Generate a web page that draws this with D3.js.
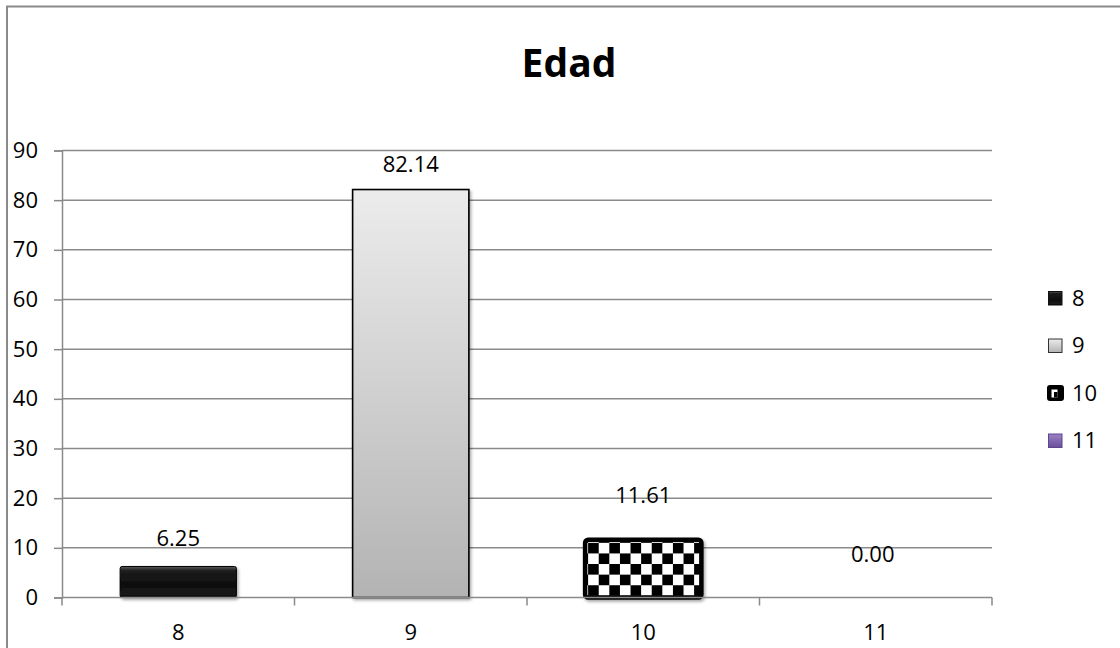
<!DOCTYPE html>
<html>
<head>
<meta charset="utf-8">
<script src="https://cdn.jsdelivr.net/npm/d3@7"></script>
<style>
  body { margin: 0; background: #fff; }
  svg text { font-family: "Open Sans", "Noto Sans", sans-serif; fill: #000; }
</style>
</head>
<body>
<svg id="chart" width="1120" height="648"></svg>
<script>
// data
const categories = ["8", "9", "10", "11"];
const values = [6.25, 82.14, 11.61, 0.00];
const yTicks = [0, 10, 20, 30, 40, 50, 60, 70, 80, 90];
const title = "Edad";

const svg = d3.select("#chart");
const plot = {left: 62, right: 992, top: 150.5, bottom: 597.5};
const grey = "#8a8a8a";

var x = d3.scaleBand()
  .domain(categories)
  .range([plot.left, plot.right])
  .paddingInner(0)
  .paddingOuter(0);

var y = d3.scaleLinear()
  .domain([0, 90])
  .range([plot.bottom, plot.top]);

// defs: gradients, pattern, shadow
const defs = svg.append("defs");

var g8 = defs.append("linearGradient").attr("id", "fill8")
  .attr("x1", 0).attr("y1", 0).attr("x2", 0).attr("y2", 1);
g8.append("stop").attr("offset", "0%").attr("stop-color", "#5c5c5c");
g8.append("stop").attr("offset", "14%").attr("stop-color", "#1c1c1c");
g8.append("stop").attr("offset", "60%").attr("stop-color", "#0e0e0e");
g8.append("stop").attr("offset", "90%").attr("stop-color", "#1a1a1a");
g8.append("stop").attr("offset", "100%").attr("stop-color", "#000");

var g9 = defs.append("linearGradient").attr("id", "fill9")
  .attr("x1", 0).attr("y1", 0).attr("x2", 0).attr("y2", 1);
g9.append("stop").attr("offset", "0%").attr("stop-color", "#ececec");
g9.append("stop").attr("offset", "100%").attr("stop-color", "#b3b3b3");

var g11 = defs.append("linearGradient").attr("id", "fill11")
  .attr("x1", 0).attr("y1", 0).attr("x2", 0).attr("y2", 1);
g11.append("stop").attr("offset", "0%").attr("stop-color", "#9a82c4");
g11.append("stop").attr("offset", "100%").attr("stop-color", "#6a4f9a");

var shadow = defs.append("filter").attr("id", "shadow")
  .attr("x", "-10%").attr("y", "-10%").attr("width", "130%").attr("height", "130%");
shadow.append("feDropShadow")
  .attr("dx", 1.5).attr("dy", 2).attr("stdDeviation", 1.6)
  .attr("flood-color", "#000").attr("flood-opacity", 0.35);

const cell = 10.6;
var bw = x.bandwidth() * 0.5;
var bx10 = x("10") + x.bandwidth() * 0.25;
var checker = defs.append("pattern").attr("id", "checker")
  .attr("patternUnits", "userSpaceOnUse")
  .attr("x", bx10 + 3).attr("y", y(values[2]) + 3)
  .attr("width", cell * 2).attr("height", cell * 2);
checker.append("rect").attr("width", cell * 2).attr("height", cell * 2).attr("fill", "#fff");
checker.append("rect").attr("width", cell).attr("height", cell).attr("fill", "#000");
checker.append("rect").attr("x", cell).attr("y", cell)
  .attr("width", cell).attr("height", cell).attr("fill", "#000");

const fills = ["url(#fill8)", "url(#fill9)", "url(#checker)", "url(#fill11)"];

// outer border
svg.append("rect")
  .attr("x", 7).attr("y", 6.5)
  .attr("width", 1300).attr("height", 800)
  .attr("fill", "none")
  .attr("stroke", grey)
  .attr("stroke-width", 2);

// title
svg.append("text")
  .attr("x", 569).attr("y", 77)
  .attr("text-anchor", "middle")
  .attr("font-size", 39)
  .attr("font-weight", "bold")
  .text(title);

// gridlines
svg.append("g").selectAll("line")
  .data(yTicks.filter(d => d > 0))
  .enter().append("line")
  .attr("x1", plot.left).attr("x2", plot.right)
  .attr("y1", d => y(d)).attr("y2", d => y(d))
  .attr("stroke", grey).attr("stroke-width", 1.5);

// y axis
var yAxis = d3.axisLeft(y).tickValues(yTicks).tickSize(8).tickPadding(16);
var yAxisEl = svg.append("g")
  .attr("transform", `translate(${plot.left},0)`)
  .call(yAxis);
yAxisEl.select(".domain").attr("stroke", grey).attr("stroke-width", 1.5);
yAxisEl.selectAll(".tick line").attr("stroke", grey).attr("stroke-width", 1.5);
yAxisEl.selectAll(".tick text")
  .attr("font-size", 22)
  .attr("font-family", "Open Sans, Noto Sans, sans-serif")
  .attr("fill", "#000");

// bars
const bars = svg.append("g");
categories.forEach(function(c, i){
  if(values[i] <= 0){
    return;
  }
  var bx = x(c) + x.bandwidth() * 0.25;
  var top = y(values[i]);
  var r = bars.append("rect")
    .attr("x", bx)
    .attr("y", top)
    .attr("width", bw)
    .attr("height", plot.bottom - top)
    .attr("fill", fills[i])
    .attr("filter", "url(#shadow)");
  if(i === 0){
    r.attr("rx", 2).attr("stroke", "#000").attr("stroke-width", 1);
  }else if(i === 1){
    r.attr("stroke", "#000").attr("stroke-width", 1.6);
  }else if(i === 2){
    r.attr("rx", 3).attr("stroke", "#000").attr("stroke-width", 4.5);
  }
});

// x axis: labels at centers, ticks at category edges
var xAxis = d3.axisBottom(x).tickSize(0).tickPadding(27);
var xAxisEl = svg.append("g")
  .attr("transform", `translate(0,${plot.bottom})`)
  .call(xAxis);
xAxisEl.select(".domain").remove();
xAxisEl.selectAll(".tick text")
  .attr("font-size", 22)
  .attr("font-family", "Open Sans, Noto Sans, sans-serif")
  .attr("fill", "#000");

svg.append("line")
  .attr("x1", plot.left).attr("x2", plot.right)
  .attr("y1", plot.bottom).attr("y2", plot.bottom)
  .attr("stroke", grey).attr("stroke-width", 1.5);
var edges = categories.map(c => x(c)).concat([x.range()[1]]);
svg.append("g").selectAll("line")
  .data(edges)
  .enter().append("line")
  .attr("x1", d => d).attr("x2", d => d)
  .attr("y1", plot.bottom).attr("y2", plot.bottom + 8)
  .attr("stroke", grey).attr("stroke-width", 1.5);

// data labels (some were dragged higher in the original)
const labelLift = [20, 18, 37, 36];
const labelShift = [0, 0, 0, -3];
svg.append("g").selectAll("text")
  .data(values)
  .enter().append("text")
  .attr("x", (d, i) => x(categories[i]) + x.bandwidth() / 2 + labelShift[i])
  .attr("y", (d, i) => y(d) - labelLift[i])
  .attr("text-anchor", "middle")
  .attr("font-size", 22)
  .text(d => d.toFixed(2));

// legend
const legend = svg.append("g");
const lgY = 298, lgStep = 47.5;
categories.forEach(function(c, i){
  var cy = lgY + i * lgStep;
  if(i === 2){
    legend.append("rect")
      .attr("x", 1047).attr("y", cy - 8).attr("width", 17).attr("height", 16)
      .attr("rx", 3).attr("fill", "#000");
    legend.append("rect")
      .attr("x", 1051.5).attr("y", cy - 3.5).attr("width", 6).attr("height", 8)
      .attr("fill", "#fff");
    legend.append("rect")
      .attr("x", 1054).attr("y", cy - 1).attr("width", 3.5).attr("height", 5.5)
      .attr("fill", "#000");
  }else{
    legend.append("rect")
      .attr("x", 1048.5).attr("y", cy - 6.5).attr("width", 13.5).attr("height", 13.5)
      .attr("fill", fills[i])
      .attr("stroke", i === 1 ? "#333" : (i === 0 ? "#111" : "#5e4590"))
      .attr("stroke-width", 1);
  }
  legend.append("text")
    .attr("x", 1072)
    .attr("y", cy)
    .attr("dy", "0.36em")
    .attr("font-size", 22)
    .text(c);
});
</script>
</body>
</html>
